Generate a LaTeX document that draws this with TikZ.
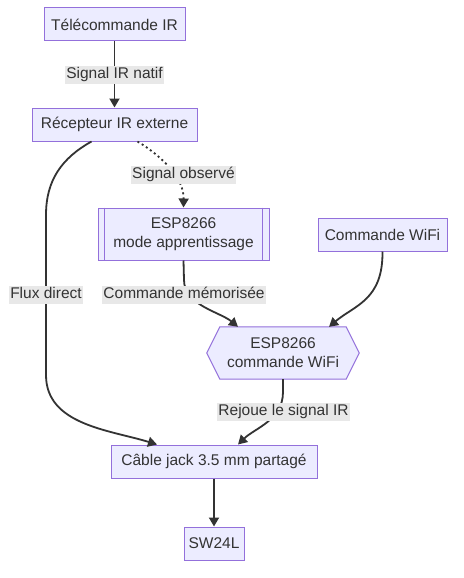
\documentclass[tikz,border=0pt]{standalone}
\usepackage{fontspec}
\setmainfont{Liberation Sans}
\usetikzlibrary{arrows.meta,backgrounds}
\definecolor{nodefill}{HTML}{ECECFF}
\definecolor{nodeborder}{HTML}{9370DB}
\definecolor{edgecol}{HTML}{333333}
\definecolor{labelbg}{HTML}{E8E8E8}
\begin{document}
\begin{tikzpicture}[x=1pt,y=-1pt, font=\fontsize{15.5}{19}\selectfont, text=edgecol,
  box/.style={draw=nodeborder, fill=nodefill, line width=1pt, align=center, inner sep=0pt},
  lbl/.style={fill=labelbg, inner xsep=1pt, inner ysep=1pt, text height=11.5pt, text depth=4pt},
  edge/.style={draw=edgecol, line width=1.8pt, -{Triangle[length=9pt,width=10pt]}},
  dotedge/.style={edge, dash pattern=on 2pt off 3pt}]
\useasboundingbox (0,0) rectangle (463,578);
\begin{scope}[on background layer]
  \fill[white] (0,0) rectangle (463,578);
\end{scope}
% nodes
\node[box, minimum width=141pt, minimum height=33pt] (tele) at (114.5,24.5) {Télécommande IR};
\node[box, minimum width=165pt, minimum height=33pt] (recep) at (114.5,124.5) {Récepteur IR externe};
\node[box, minimum width=171pt, minimum height=52pt] (learn) at (183.5,234) {ESP8266\\mode apprentissage};
\draw[nodeborder, line width=1pt] ([xshift=7pt]learn.north west) -- ([xshift=7pt]learn.south west)
  ([xshift=-7pt]learn.north east) -- ([xshift=-7pt]learn.south east);
\node[box, minimum width=129pt, minimum height=33pt] (wifi) at (382.5,234.5) {Commande WiFi};
\node[align=center, inner sep=0pt, minimum width=152pt, minimum height=52pt] (cmd) at (283,353) {ESP8266\\commande WiFi};
\begin{scope}[on background layer]
  \draw[draw=nodeborder, fill=nodefill, line width=1pt]
    (cmd.west) -- ([xshift=13pt]cmd.north west) -- ([xshift=-13pt]cmd.north east) -- (cmd.east)
    -- ([xshift=-13pt]cmd.south east) -- ([xshift=13pt]cmd.south west) -- cycle;
\end{scope}
\node[box, minimum width=206pt, minimum height=33pt] (cable) at (214,461.5) {Câble jack 3.5 mm partagé};
\node[box, minimum width=60pt, minimum height=33pt] (sw) at (214,543.5) {SW24L};
% edges
\draw[edge] (tele) -- (recep);
\draw[dotedge] ([xshift=23pt]recep.south) .. controls (165,158) and (184,180) .. (learn.north);
\draw[edge] ([xshift=-23pt]recep.south) .. controls (62,158) and (46,180) .. (46,215) -- (46,375)
  .. controls (46,425) and (110,430) .. ([xshift=-57pt]cable.north);
\draw[edge] (learn.south) -- (184,280) .. controls (184,305) and (220,312) .. ([xshift=-45pt]cmd.north);
\draw[edge] (wifi.south) .. controls (383,300) and (355,305) .. ([xshift=46pt]cmd.north);
\draw[edge] (cmd.south) -- (283,392) .. controls (283,420) and (255,428) .. ([xshift=24pt]cable.north);
\draw[edge] (cable) -- (sw);
% labels
\node[lbl] (l1) at (114.5,75) {Signal IR natif};
\node[lbl] (l2) at (183.5,175) {Signal observé};
\node[lbl] (l3) at (46,295) {Flux direct};
\node[lbl] (l4) at (184,295) {Commande mémorisée};
\node[lbl] (l5) at (283.5,412) {Rejoue le signal IR};
\end{tikzpicture}
\end{document}
